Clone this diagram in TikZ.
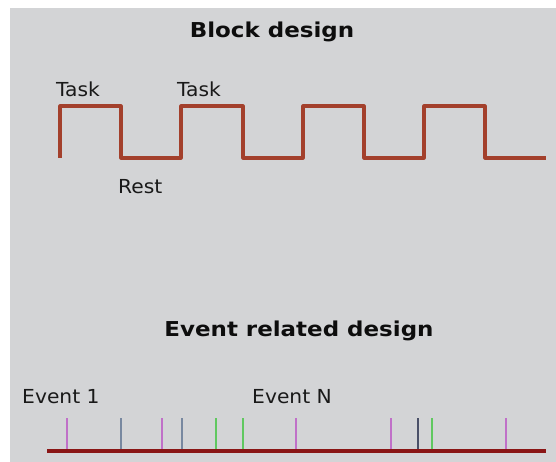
\documentclass[tikz,border=0pt]{standalone}
\usepackage{fontspec}
\setmainfont{DejaVu Sans}
\newfontfamily\lblfont{DejaVu Sans}[FakeStretch=1.05]
\newfontfamily\ttlfont{DejaVu Sans}[FakeStretch=1.12]
\definecolor{bggray}{HTML}{D3D4D6}
\definecolor{wavecol}{HTML}{A3402C}
\definecolor{basecol}{HTML}{8A1616}
\definecolor{tmag}{HTML}{C070C8}
\definecolor{tgray}{HTML}{7888A0}
\definecolor{tnavy}{HTML}{4A5068}
\definecolor{tgreen}{HTML}{60C860}
\begin{document}
\begin{tikzpicture}[x=1pt,y=-1pt,
  ttl/.style={anchor=base,inner sep=0pt,font=\ttlfont\bfseries\fontsize{20.5}{24}\selectfont,text=black!95},
  lbl/.style={anchor=base west,inner sep=0pt,font=\lblfont\fontsize{19.3}{23}\selectfont,text=black!90},
  wave/.style={draw=wavecol,line width=3.05pt,line join=round},
  tick/.style={line width=2.5pt}]
\useasboundingbox (0,0) rectangle (556,462);
\fill[white] (0,0) rectangle (556,462);
\fill[bggray] (10,8) rectangle (556,462);
% titles
\node[ttl] (t1) at (272,37.3) {Block design};
\node[ttl] (t2) at (299,336) {Event related design};
% block labels
\node[lbl] (task1) at (56,96.7) {Task};
\node[lbl] (task2) at (177,96.7) {Task};
\node[lbl] (rest) at (118,194) {Rest};
% square wave
\draw[wave] (60,158) -- (60,106) -- (121,106) -- (121,158) -- (181,158) -- (181,106)
  -- (243,106) -- (243,158) -- (303,158) -- (303,106) -- (364,106) -- (364,158)
  -- (424,158) -- (424,106) -- (485,106) -- (485,158) -- (546,158);
% event labels
\node[lbl] (ev1) at (22,403) {Event 1};
\node[lbl] (evn) at (252,403) {Event N};
% ticks
\foreach \x/\c in {67/tmag,121/tgray,162/tmag,182/tgray,216/tgreen,243/tgreen,296/tmag,391/tmag,418/tnavy,432/tgreen,506/tmag}
  \draw[tick,draw=\c] (\x,418) -- (\x,450);
% baseline
\coordinate (b0) at (47,451);
\coordinate (b1) at (546,451);
\draw[basecol,line width=3.6pt] (b0) -- (b1);
\end{tikzpicture}
\end{document}
